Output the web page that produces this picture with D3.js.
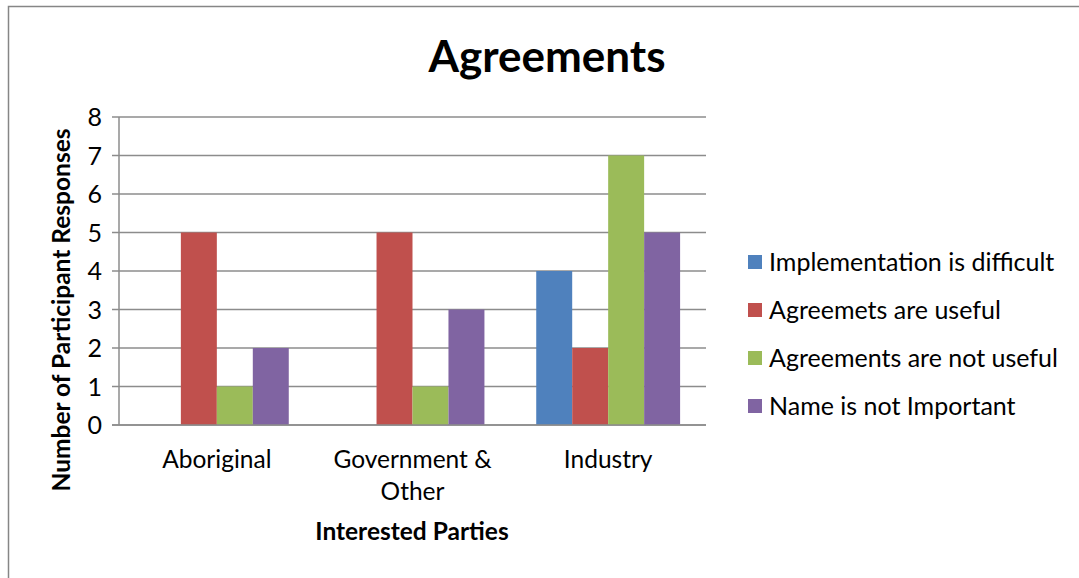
<!DOCTYPE html>
<html><head><meta charset="utf-8">
<script src="https://cdn.jsdelivr.net/npm/d3@7"></script>
<style>body{margin:0;background:#fff;} svg{display:block;} text{font-family:Lato,"Open Sans",sans-serif;fill:#000;}</style>
</head><body>
<svg id="c" width="1079" height="578"></svg>
<script>
const categories = [["Aboriginal"], ["Government &", "Other"], ["Industry"]];
const seriesNames = ["Implementation is difficult", "Agreemets are useful", "Agreements are not useful", "Name is not Important"];
const seriesColors = ["#4F81BD", "#C0504D", "#9BBB59", "#8064A2"];
const implementationDifficult = [0, 0, 4];
const agreementsUseful = [5, 5, 2];
const agreementsNotUseful = [1, 1, 7];
const nameNotImportant = [2, 3, 5];
const yTicks = [0, 1, 2, 3, 4, 5, 6, 7, 8];
const seriesValues = [implementationDifficult, agreementsUseful, agreementsNotUseful, nameNotImportant];

(function () {
const svg = d3.select("#c");
svg.append("path").attr("d", "M8.5,600 V6.5 H1100").attr("fill", "none").attr("stroke", "#868686").attr("stroke-width", 1.5);

const pL = 119, pR = 706, pT = 117, pB = 425;
const x0 = d3.scaleBand().domain(d3.range(categories.length)).range([pL, pR]).paddingInner(0).paddingOuter(0);
const x1 = d3.scaleBand().domain(d3.range(seriesNames.length)).range([0, x0.bandwidth()]).paddingInner(0).paddingOuter(0.72);
const y = d3.scaleLinear().domain([0, 8]).range([pB, pT]);

svg.append("g").selectAll("line").data(yTicks).join("line")
  .attr("x1", pL - 7).attr("x2", pR).attr("y1", d => y(d)).attr("y2", d => y(d))
  .attr("stroke", "#8c8c8c").attr("stroke-width", 1.5);
svg.append("line").attr("x1", pL).attr("x2", pL).attr("y1", pT).attr("y2", pB)
  .attr("stroke", "#8c8c8c").attr("stroke-width", 1.5);

const g = svg.append("g");
seriesValues.forEach((vals, si) => {
  g.selectAll(null).data(vals).join("rect")
    .attr("x", (d, i) => x0(i) + x1(si))
    .attr("width", x1.bandwidth())
    .attr("y", d => y(d))
    .attr("height", d => pB - y(d))
    .attr("fill", seriesColors[si]);
});
svg.append("line").attr("x1", pL - 7).attr("x2", pR).attr("y1", pB).attr("y2", pB)
  .attr("stroke", "#8c8c8c").attr("stroke-width", 1.5);

svg.append("g").selectAll("text").data(yTicks).join("text")
  .attr("x", 102).attr("y", d => y(d)).attr("dy", "0.36em").attr("text-anchor", "end")
  .attr("font-size", 25).text(d => d);

categories.forEach((lines, i) => {
  const cx = x0(i) + x0.bandwidth() / 2;
  const t = svg.append("text").attr("x", cx).attr("y", 468)
    .attr("text-anchor", "middle").attr("font-size", 24.5);
  lines.forEach((l, k) => t.append("tspan").attr("x", cx).attr("dy", k ? 32 : 0).text(l));
});

svg.append("text").attr("x", 547).attr("y", 72).attr("text-anchor", "middle")
  .attr("font-size", 44).attr("font-weight", "bold").text("Agreements");
svg.append("text").attr("x", 412).attr("y", 540).attr("text-anchor", "middle")
  .attr("font-size", 24.5).attr("font-weight", "bold").text("Interested Parties");
svg.append("text").attr("transform", "translate(70,310) rotate(-90)").attr("text-anchor", "middle")
  .attr("font-size", 24.5).attr("font-weight", "bold").text("Number of Participant Responses");

const lg = svg.append("g").selectAll("g").data(seriesNames).join("g")
  .attr("transform", (d, i) => `translate(748,${262 + i * 48})`);
lg.append("rect").attr("x", 0).attr("y", -7).attr("width", 14).attr("height", 14).attr("fill", (d, i) => seriesColors[i]);
lg.append("text").attr("x", 21).attr("dy", "0.36em").attr("font-size", 25).text(d => d);
})();
</script>
</body></html>
